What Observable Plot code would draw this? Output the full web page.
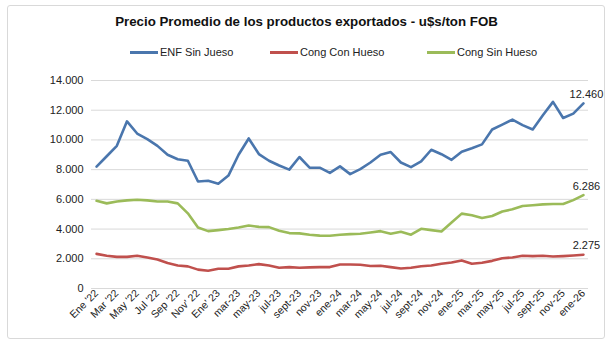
<!DOCTYPE html>
<html><head><meta charset="utf-8">
<script src="https://cdn.jsdelivr.net/npm/d3@7"></script>
<script src="https://cdn.jsdelivr.net/npm/@observablehq/plot@0.6"></script>
<style>
body{margin:0;background:#fff;font-family:"Liberation Sans",Arial,sans-serif;width:613px;height:348px;overflow:hidden;position:relative}
#frame{position:absolute;left:7px;top:5px;width:596px;height:332px;border:1px solid #d9d9d9;border-radius:3px;}
#title{position:absolute;left:0;top:14px;width:613px;text-align:center;font-weight:bold;font-size:13.3px;color:#111;}
.leg{position:absolute;top:46px;font-size:11px;color:#222;display:flex;align-items:center;white-space:nowrap}
.leg .sw{display:inline-block;width:28px;height:3px;margin-right:2px}
#chart{position:absolute;left:0;top:65px;}
</style></head><body>
<div id="frame"></div>
<div id="title">Precio Promedio de los productos exportados - u$s/ton FOB</div>
<div id="legend"></div>
<div id="chart"></div>
<script>
const seriesNames = ["ENF Sin Jueso", "Cong Con Hueso", "Cong Sin Hueso"];
const seriesColors = ["#4a76ad", "#c0504d", "#9bbb59"];
const tickLabels = ["Ene '22","Mar '22","May '22","Jul '22","Sep '22","Nov' 22","Ene' 23","mar-23","may-23","jul-23","sept-23","nov-23","ene-24","mar-24","may-24","jul-24","sept-24","nov-24","ene-25","mar-25","may-25","jul-25","sept-25","nov-25","ene-26"];
const enfSinJueso = [8200,8900,9600,11250,10430,10050,9600,9000,8700,8600,7200,7250,7050,7600,9000,10100,9050,8600,8280,8000,8850,8130,8130,7780,8220,7700,8040,8480,9000,9180,8480,8170,8550,9340,9040,8660,9210,9440,9700,10700,11030,11370,11000,10700,11660,12560,11480,11770,12460];
const congConHueso = [2330,2200,2130,2130,2200,2090,1950,1710,1550,1490,1270,1200,1330,1330,1490,1550,1640,1550,1400,1440,1400,1420,1440,1440,1620,1620,1600,1510,1530,1440,1350,1400,1500,1550,1670,1750,1890,1670,1730,1860,2040,2090,2200,2180,2200,2150,2180,2220,2275];
const congSinHueso = [5900,5730,5860,5930,5970,5930,5860,5860,5730,5060,4110,3860,3930,4000,4110,4240,4150,4130,3890,3730,3710,3620,3560,3550,3620,3660,3690,3770,3860,3690,3820,3620,4020,3930,3840,4440,5040,4930,4750,4880,5180,5330,5550,5600,5660,5690,5690,5950,6286];
const yTicks = [0,2000,4000,6000,8000,10000,12000,14000];

const allSeries = [enfSinJueso, congConHueso, congSinHueso];
const rows = [];
allSeries.forEach((arr, k) => arr.forEach((v, i) => rows.push({i, v, s: seriesNames[k]})));
const fmt = v => String(v).replace(/\B(?=(\d{3})+(?!\d))/g, ".");
const xTicks = tickLabels.map((_, j) => j * 2);

// legend
const legPos = [130, 270, 427];
const legend = document.getElementById("legend");
seriesNames.forEach((n, k) => {
  const d = document.createElement("div");
  d.className = "leg";
  d.style.left = legPos[k] + "px";
  d.innerHTML = `<span class="sw" style="background:${seriesColors[k]}"></span>${n}`;
  legend.appendChild(d);
});

const chart = Plot.plot({
  width: 613, height: 273,
  marginTop: 15, marginBottom: 50, marginLeft: 91, marginRight: 25,
  style: {fontFamily: '"Liberation Sans", Arial, sans-serif', background: "transparent", color: "#222"},
  x: {domain: [-0.5, 48.5], axis: null, label: null},
  y: {domain: [0, 14000], axis: null, label: null},
  color: {domain: seriesNames, range: seriesColors},
  marks: [
    Plot.gridY(yTicks, {stroke: "#d9d9d9", strokeOpacity: 1, strokeWidth: 1}),
    Plot.axisY(yTicks, {tickSize: 0, tickPadding: 8, tickFormat: fmt, fontSize: 11, label: null}),
    Plot.axisX(xTicks, {tickSize: 0, tickPadding: 3, tickRotate: -45, tickFormat: i => tickLabels[i / 2], fontSize: 10.5, label: null}),
    Plot.line(rows, {x: "i", y: "v", z: "s", stroke: "s", strokeWidth: 2.6}),
    Plot.text(rows, Plot.selectLast({x: "i", y: "v", z: "s", text: d => fmt(d.v), dy: -9, dx: 3, fontSize: 11, fill: "#222"}))
  ]
});
document.getElementById("chart").appendChild(chart);
</script>
</body></html>
